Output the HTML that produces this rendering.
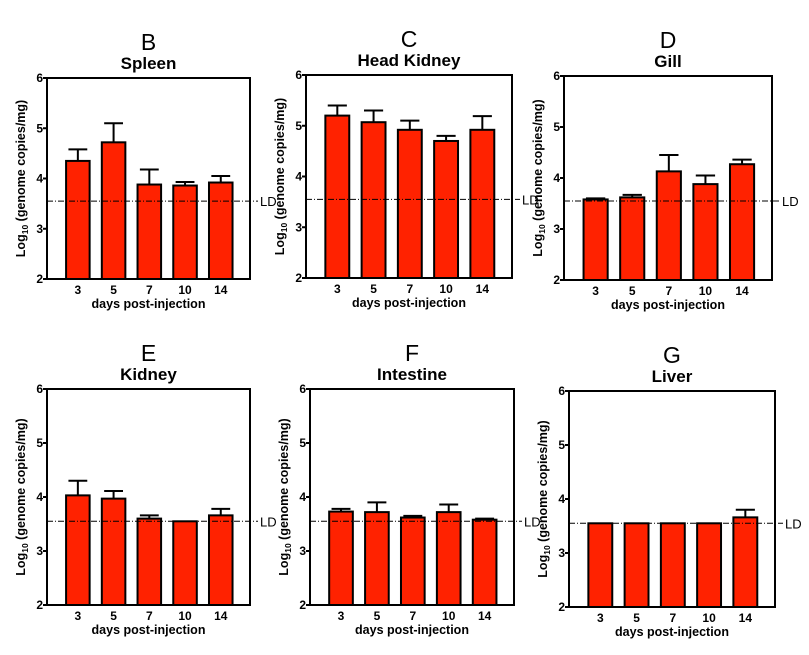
<!DOCTYPE html>
<html><head><meta charset="utf-8"><style>
body{margin:0;background:#fff;width:809px;height:655px;overflow:hidden}
svg{display:block}
text{font-family:"Liberation Sans",Arial,sans-serif}
</style></head><body>
<svg id="fig" width="809" height="655" viewBox="0 0 809 655"></svg>
<script>
const categories = ["3","5","7","10","14"];
const yTicks = [2,3,4,5,6];
const ldValue = 3.55;
const panelLetters = ["B","C","D","E","F","G"];
const panelTitles = ["Spleen","Head Kidney","Gill","Kidney","Intestine","Liver"];
const spleenMeans = [4.35,4.72,3.88,3.86,3.92];
const spleenErr = [0.23,0.38,0.30,0.07,0.13];
const headKidneyMeans = [5.20,5.07,4.92,4.70,4.92];
const headKidneyErr = [0.20,0.23,0.18,0.10,0.27];
const gillMeans = [3.58,3.62,4.13,3.88,4.27];
const gillErr = [0.02,0.05,0.32,0.17,0.09];
const kidneyMeans = [4.03,3.97,3.60,3.55,3.66];
const kidneyErr = [0.27,0.14,0.06,0,0.12];
const intestineMeans = [3.73,3.72,3.62,3.72,3.58];
const intestineErr = [0.05,0.18,0.03,0.14,0.02];
const liverMeans = [3.55,3.55,3.55,3.55,3.66];
const liverErr = [0,0,0,0,0.14];
const allMeans=[spleenMeans,headKidneyMeans,gillMeans,kidneyMeans,intestineMeans,liverMeans];
const allErr=[spleenErr,headKidneyErr,gillErr,kidneyErr,intestineErr,liverErr];
const boxes=[[47,78,250,279],[306,75,512,278],[564,76,772,280],[47,389,250,605],[310,389,514,605],[569,391,775,607]];
const NS="http://www.w3.org/2000/svg";
const svg=document.getElementById('fig');
function mk(tag,attrs,parent,txt){const e=document.createElementNS(NS,tag);for(const k in attrs)e.setAttribute(k,attrs[k]);if(txt!==undefined)e.textContent=txt;(parent||svg).appendChild(e);return e;}
boxes.forEach((b,p)=>{
  const [L,T,R,B]=b;
  const g=mk('g',{});
  
  
  const y=v=>B-(v-2)/4*(B-T);
  const w=R-L;
  const x=i=>L+w*(0.152+i*0.176);
  const bw=w*0.116;
  const cx=(L+R)/2;
  let t=mk('text',{x:cx,y:T-28,'text-anchor':'middle','font-size':23},g,panelLetters[p]);
  
  
  t=mk('text',{x:cx,y:T-9,'text-anchor':'middle','font-size':17,'font-weight':'bold'},g,panelTitles[p]);
  
  
  yTicks.forEach(v=>{
    mk('line',{x1:L-4,x2:L,y1:y(v),y2:y(v),stroke:'#000','stroke-width':2},g);
    const tl=mk('text',{x:L-4,y:y(v)+4,'text-anchor':'end','font-size':12,'font-weight':'bold'},g,v);
    
    
  });
  allMeans[p].forEach((m,i)=>{
    const e=allErr[p][i];
    if(e>0){
      mk('line',{x1:x(i),x2:x(i),y1:y(m),y2:y(m+e),stroke:'#000','stroke-width':2},g);
      mk('line',{x1:x(i)-bw*0.4,x2:x(i)+bw*0.4,y1:y(m+e),y2:y(m+e),stroke:'#000','stroke-width':2},g);
    }
    const r=mk('rect',{x:x(i)-bw/2,y:y(m),width:bw,height:B-y(m),fill:'#ff2200',stroke:'#000','stroke-width':2},g);
    
    
    const xl=mk('text',{x:x(i),y:B+15,'text-anchor':'middle','font-size':12,'font-weight':'bold'},g,categories[i]);
    
    
  });
  const ld=mk('line',{x1:L,x2:R+8,y1:y(ldValue),y2:y(ldValue),stroke:'#000','stroke-width':1,'stroke-dasharray':'6,2,1,2'},g);
  
  
  t=mk('text',{x:R+10,y:y(ldValue)+5,'font-size':13},g,'LD');
  
  
  const fr=mk('rect',{x:L,y:T,width:w,height:B-T,fill:'none',stroke:'#000','stroke-width':2},g);
  
  
  t=mk('text',{x:cx,y:B+29,'text-anchor':'middle','font-size':12.5,'font-weight':'bold'},g,'days post-injection');
  
  
  const yt=mk('text',{transform:`translate(${L-22},${(T+B)/2}) rotate(-90)`,'text-anchor':'middle','font-size':12.5,'font-weight':'bold'},g);
  
  
  mk('tspan',{},yt,'Log');
  mk('tspan',{dy:3,'font-size':8.5},yt,'10');
  mk('tspan',{dy:-3},yt,' (genome copies/mg)');
});
</script>
</body></html>
